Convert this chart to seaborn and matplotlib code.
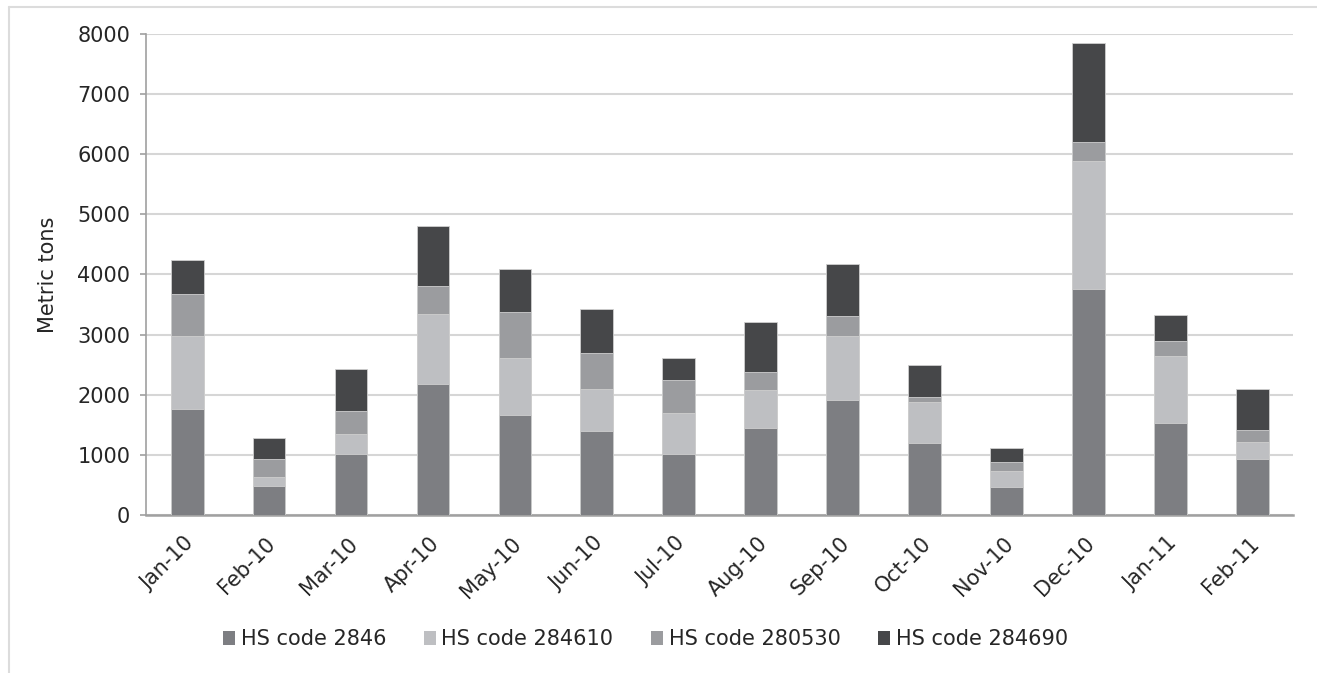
import pandas as pd
import matplotlib.pyplot as plt
import seaborn as sns
from matplotlib.lines import Line2D
from matplotlib.patches import Patch
from matplotlib.transforms import ScaledTranslation

# Monthly volumes (metric tons) by HS code
months = ["Jan-10", "Feb-10", "Mar-10", "Apr-10", "May-10", "Jun-10", "Jul-10",
          "Aug-10", "Sep-10", "Oct-10", "Nov-10", "Dec-10", "Jan-11", "Feb-11"]
hs_2846 = [1764, 478, 1015, 2180, 1669, 1403, 1020, 1448, 1913, 1203, 471, 3766, 1525, 937]
hs_284610 = [1214, 154, 333, 1164, 948, 694, 672, 632, 1065, 677, 266, 2119, 1121, 278]
hs_280530 = [699, 305, 382, 466, 755, 599, 554, 299, 333, 78, 140, 316, 244, 199]
hs_284690 = [566, 339, 694, 999, 716, 726, 371, 837, 860, 533, 238, 1653, 432, 677]

series = ["HS code 2846", "HS code 284610", "HS code 280530", "HS code 284690"]
colors = ["#7d7e82", "#bebfc2", "#9b9c9f", "#464749"]

df = pd.DataFrame({"month": months, series[0]: hs_2846, series[1]: hs_284610,
                   series[2]: hs_280530, series[3]: hs_284690})
cum = df[series].cumsum(axis=1)
cum["month"] = df["month"]

sns.set_style("white")
plt.rcParams['font.family'] = ['DejaVu Sans']
txt = "#262626"
fs = 15

fig = plt.figure(figsize=(13.17, 6.73), dpi=100)
ax = fig.add_axes([0.111, 0.2348, 0.871, 0.7147])

# outer frame (top and left edges only)
fig.add_artist(Line2D([0.007, 1.0], [0.99, 0.99], transform=fig.transFigure,
                      color="#dcdcdc", linewidth=1.5))
fig.add_artist(Line2D([0.007, 0.007], [0.0, 0.99], transform=fig.transFigure,
                      color="#dcdcdc", linewidth=1.5))

# stacked bars: draw cumulative totals from top layer down
for name, col in reversed(list(zip(series, colors))):
    sns.barplot(data=cum, x="month", y=name, color=col, width=0.4, ax=ax,
                edgecolor="#cfcfcf", linewidth=0.6, saturation=1, zorder=3)

ax.set_ylim(0, 8000)
ax.set_xlim(-0.5, len(months) - 0.5)
ax.set_yticks(range(0, 8001, 1000))
ax.yaxis.grid(True, color="#d6d6d6", linewidth=1.5, zorder=0)
ax.set_axisbelow(True)
for s in ["top", "right"]:
    ax.spines[s].set_visible(False)
ax.spines["left"].set_color("#a0a0a0")
ax.spines["left"].set_linewidth(1.2)
ax.spines["bottom"].set_color("#a0a0a0")
ax.spines["bottom"].set_linewidth(1.8)
ax.tick_params(axis="y", left=True, length=4.5, width=1.2, color="#a0a0a0",
               labelsize=fs, labelcolor=txt, pad=7)
ax.tick_params(axis="x", bottom=False, labelsize=fs, labelcolor=txt, pad=4)
offset = ScaledTranslation(-2.7 / 72, -5.8 / 72, fig.dpi_scale_trans)
for lab in ax.get_xticklabels():
    lab.set_rotation(45)
    lab.set_ha("right")
    lab.set_rotation_mode("anchor")
    lab.set_transform(lab.get_transform() + offset)
ax.set_xlabel("")
ax.set_ylabel("Metric tons", fontsize=fs, color=txt, labelpad=14)

handles = [Patch(facecolor=c, edgecolor="none", label=s) for s, c in zip(series, colors)]
fig.legend(handles=handles, loc="center", bbox_to_anchor=(0.49, 0.05), ncol=4,
           frameon=False, fontsize=fs, handlelength=0.6, handleheight=0.6,
           handletextpad=0.25, columnspacing=1.8, labelcolor=txt)

fig.savefig("out.png", dpi=100)
plt.close()
